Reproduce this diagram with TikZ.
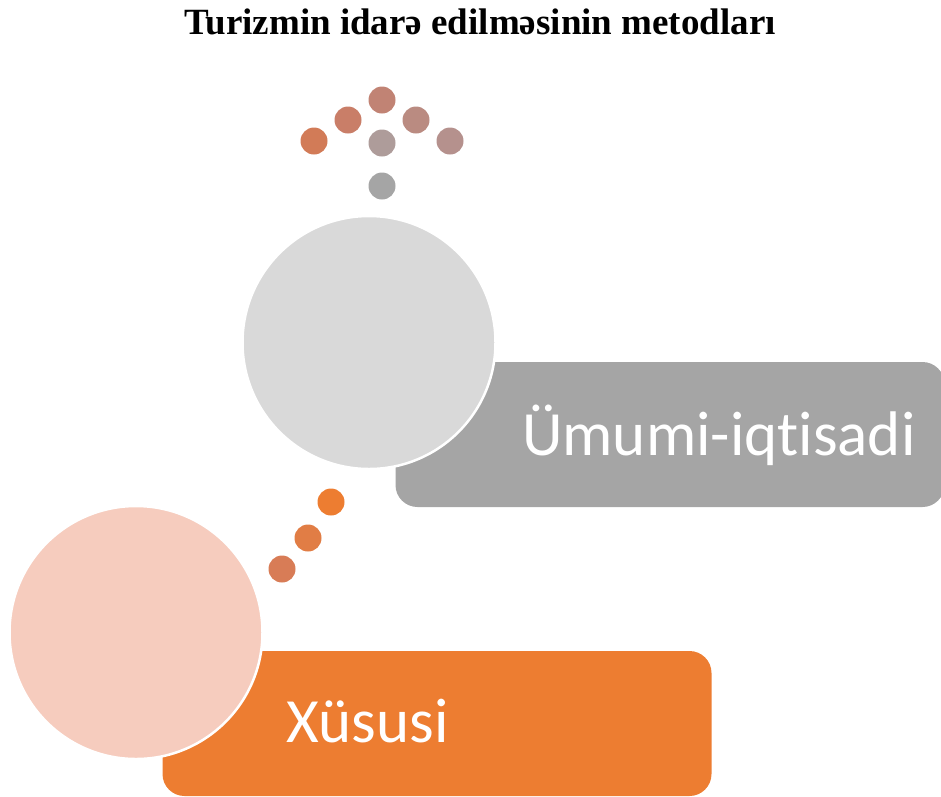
\documentclass[tikz,border=0pt]{standalone}
\usepackage{fontspec}
\setmainfont{Liberation Serif}
\newfontfamily\labelfont[Ligatures=NoCommon]{Carlito}
\definecolor{boxgray}{HTML}{A5A5A5}
\definecolor{discgray}{HTML}{D9D9D9}
\definecolor{boxorange}{HTML}{ED7D31}
\definecolor{discpink}{HTML}{F6CCBE}
\begin{document}
\begin{tikzpicture}[x=1pt,y=-1pt,
  big disc/.style={circle,draw=white,line width=2.5pt,minimum size=253pt,inner sep=0pt},
  label box/.style={rectangle,rounded corners=22pt,minimum width=549pt,minimum height=145pt,inner sep=0pt},
  small dot/.style={circle,minimum size=27pt,inner sep=0pt},
  box text/.style={anchor=base west,text=white,font=\labelfont\fontsize{63}{75}\selectfont,inner sep=0pt}]

  \useasboundingbox (0,0) rectangle (941,796);

  \node[font=\bfseries\fontsize{37}{44}\selectfont,anchor=base] (title) at (480,34) {Turizmin idarə edilməsinin metodları};

  % upper pair
  \node[label box,fill=boxgray] (box1) at (670,434.5) {};
  \node[big disc,fill=discgray] (disc1) at (369,342.5) {};
  \node[box text] (text1) at (522,455) {Ümumi-iqtisadi};

  % lower pair
  \node[label box,fill=boxorange] (box2) at (437,723.5) {};
  \node[big disc,fill=discpink] (disc2) at (136,632.5) {};
  \node[box text] (text2) at (286,742) {Xüsusi};

  % dots
  \node[small dot,fill={rgb,255:red,210;green,123;blue,87}] (d1) at (314,141) {};
  \node[small dot,fill={rgb,255:red,201;green,126;blue,104}] (d2) at (348,120) {};
  \node[small dot,fill={rgb,255:red,193;green,131;blue,116}] (d3) at (382,100) {};
  \node[small dot,fill={rgb,255:red,186;green,139;blue,129}] (d4) at (416,120) {};
  \node[small dot,fill={rgb,255:red,181;green,145;blue,141}] (d5) at (450,141) {};
  \node[small dot,fill={rgb,255:red,174;green,156;blue,154}] (d6) at (382,143) {};
  \node[small dot,fill=boxgray] (d7) at (382,186) {};

  \node[small dot,fill=boxorange] (e1) at (331,502) {};
  \node[small dot,fill={rgb,255:red,225;green,125;blue,69}] (e2) at (308,538) {};
  \node[small dot,fill={rgb,255:red,216;green,124;blue,86}] (e3) at (282,569) {};
\end{tikzpicture}
\end{document}
